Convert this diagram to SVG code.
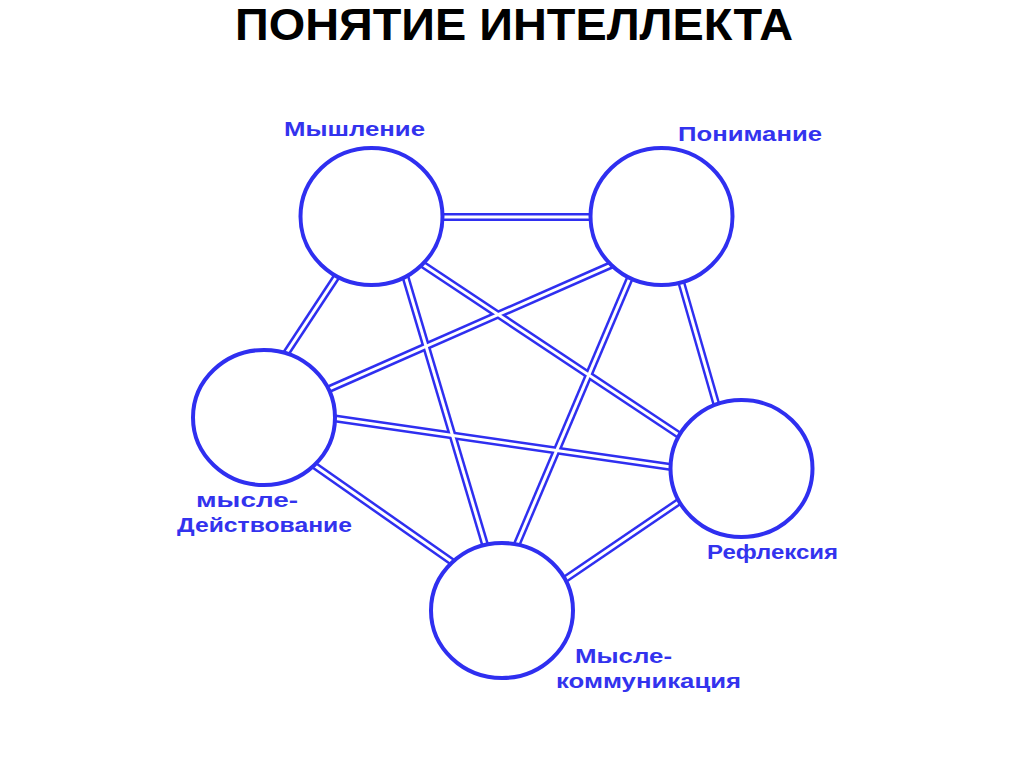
<svg xmlns="http://www.w3.org/2000/svg" width="1024" height="767" viewBox="0 0 1024 767">
<style>
.title{font-family:"Liberation Sans",Arial,sans-serif;font-weight:bold;font-size:44px;fill:#000}
.lbl{font-family:"Liberation Sans",Arial,sans-serif;font-weight:bold;font-size:21px;fill:#3333ee}
.node{fill:#fff;stroke:#2f2ff0;stroke-width:4}
.outer{stroke:#2f2ff0;stroke-width:8;fill:none}
.inner{stroke:#fff;stroke-width:3;fill:none}
</style>
<rect width="1024" height="767" fill="#fff"/>
<text class="title" x="235" y="40" textLength="558" lengthAdjust="spacingAndGlyphs">ПОНЯТИЕ ИНТЕЛЛЕКТА</text>
<defs>
<g id="edges">
<line x1="430" y1="217" x2="600" y2="217"/>
<line x1="337" y1="276" x2="283" y2="358"/>
<line x1="404" y1="272" x2="486" y2="548"/>
<line x1="416" y1="260" x2="688" y2="441"/>
<line x1="618" y1="262" x2="320" y2="393"/>
<line x1="632" y1="273" x2="514" y2="551"/>
<line x1="680" y1="278" x2="718" y2="410"/>
<line x1="325" y1="417" x2="678" y2="468"/>
<line x1="308" y1="461" x2="458" y2="566"/>
<line x1="561" y1="582" x2="680" y2="501"/>
</g>
</defs>
<g id="connectors">
<use href="#edges" class="outer"/>
<use href="#edges" class="inner"/>
</g>
<g id="n-myshlenie">
<ellipse class="node" cx="371.5" cy="216.5" rx="71" ry="68.5"/>
<text class="lbl" x="284" y="136" textLength="141" lengthAdjust="spacingAndGlyphs">Мышление</text>
</g>
<g id="n-ponimanie">
<ellipse class="node" cx="661.5" cy="216.5" rx="71" ry="68.5"/>
<text class="lbl" x="678" y="141" textLength="144" lengthAdjust="spacingAndGlyphs">Понимание</text>
</g>
<g id="n-deystvovanie">
<ellipse class="node" cx="264" cy="417.5" rx="71" ry="67.5"/>
<text class="lbl" x="196" y="507" textLength="102" lengthAdjust="spacingAndGlyphs">мысле-</text>
<text class="lbl" x="177" y="532" textLength="175" lengthAdjust="spacingAndGlyphs">Действование</text>
</g>
<g id="n-refleksiya">
<ellipse class="node" cx="741.5" cy="468.5" rx="71" ry="68.5"/>
<text class="lbl" x="707" y="559" textLength="131" lengthAdjust="spacingAndGlyphs">Рефлексия</text>
</g>
<g id="n-kommunikaciya">
<ellipse class="node" cx="502" cy="610.5" rx="71" ry="67.5"/>
<text class="lbl" x="575" y="663" textLength="97" lengthAdjust="spacingAndGlyphs">Мысле-</text>
<text class="lbl" x="556" y="688" textLength="185" lengthAdjust="spacingAndGlyphs">коммуникация</text>
</g>
</svg>
